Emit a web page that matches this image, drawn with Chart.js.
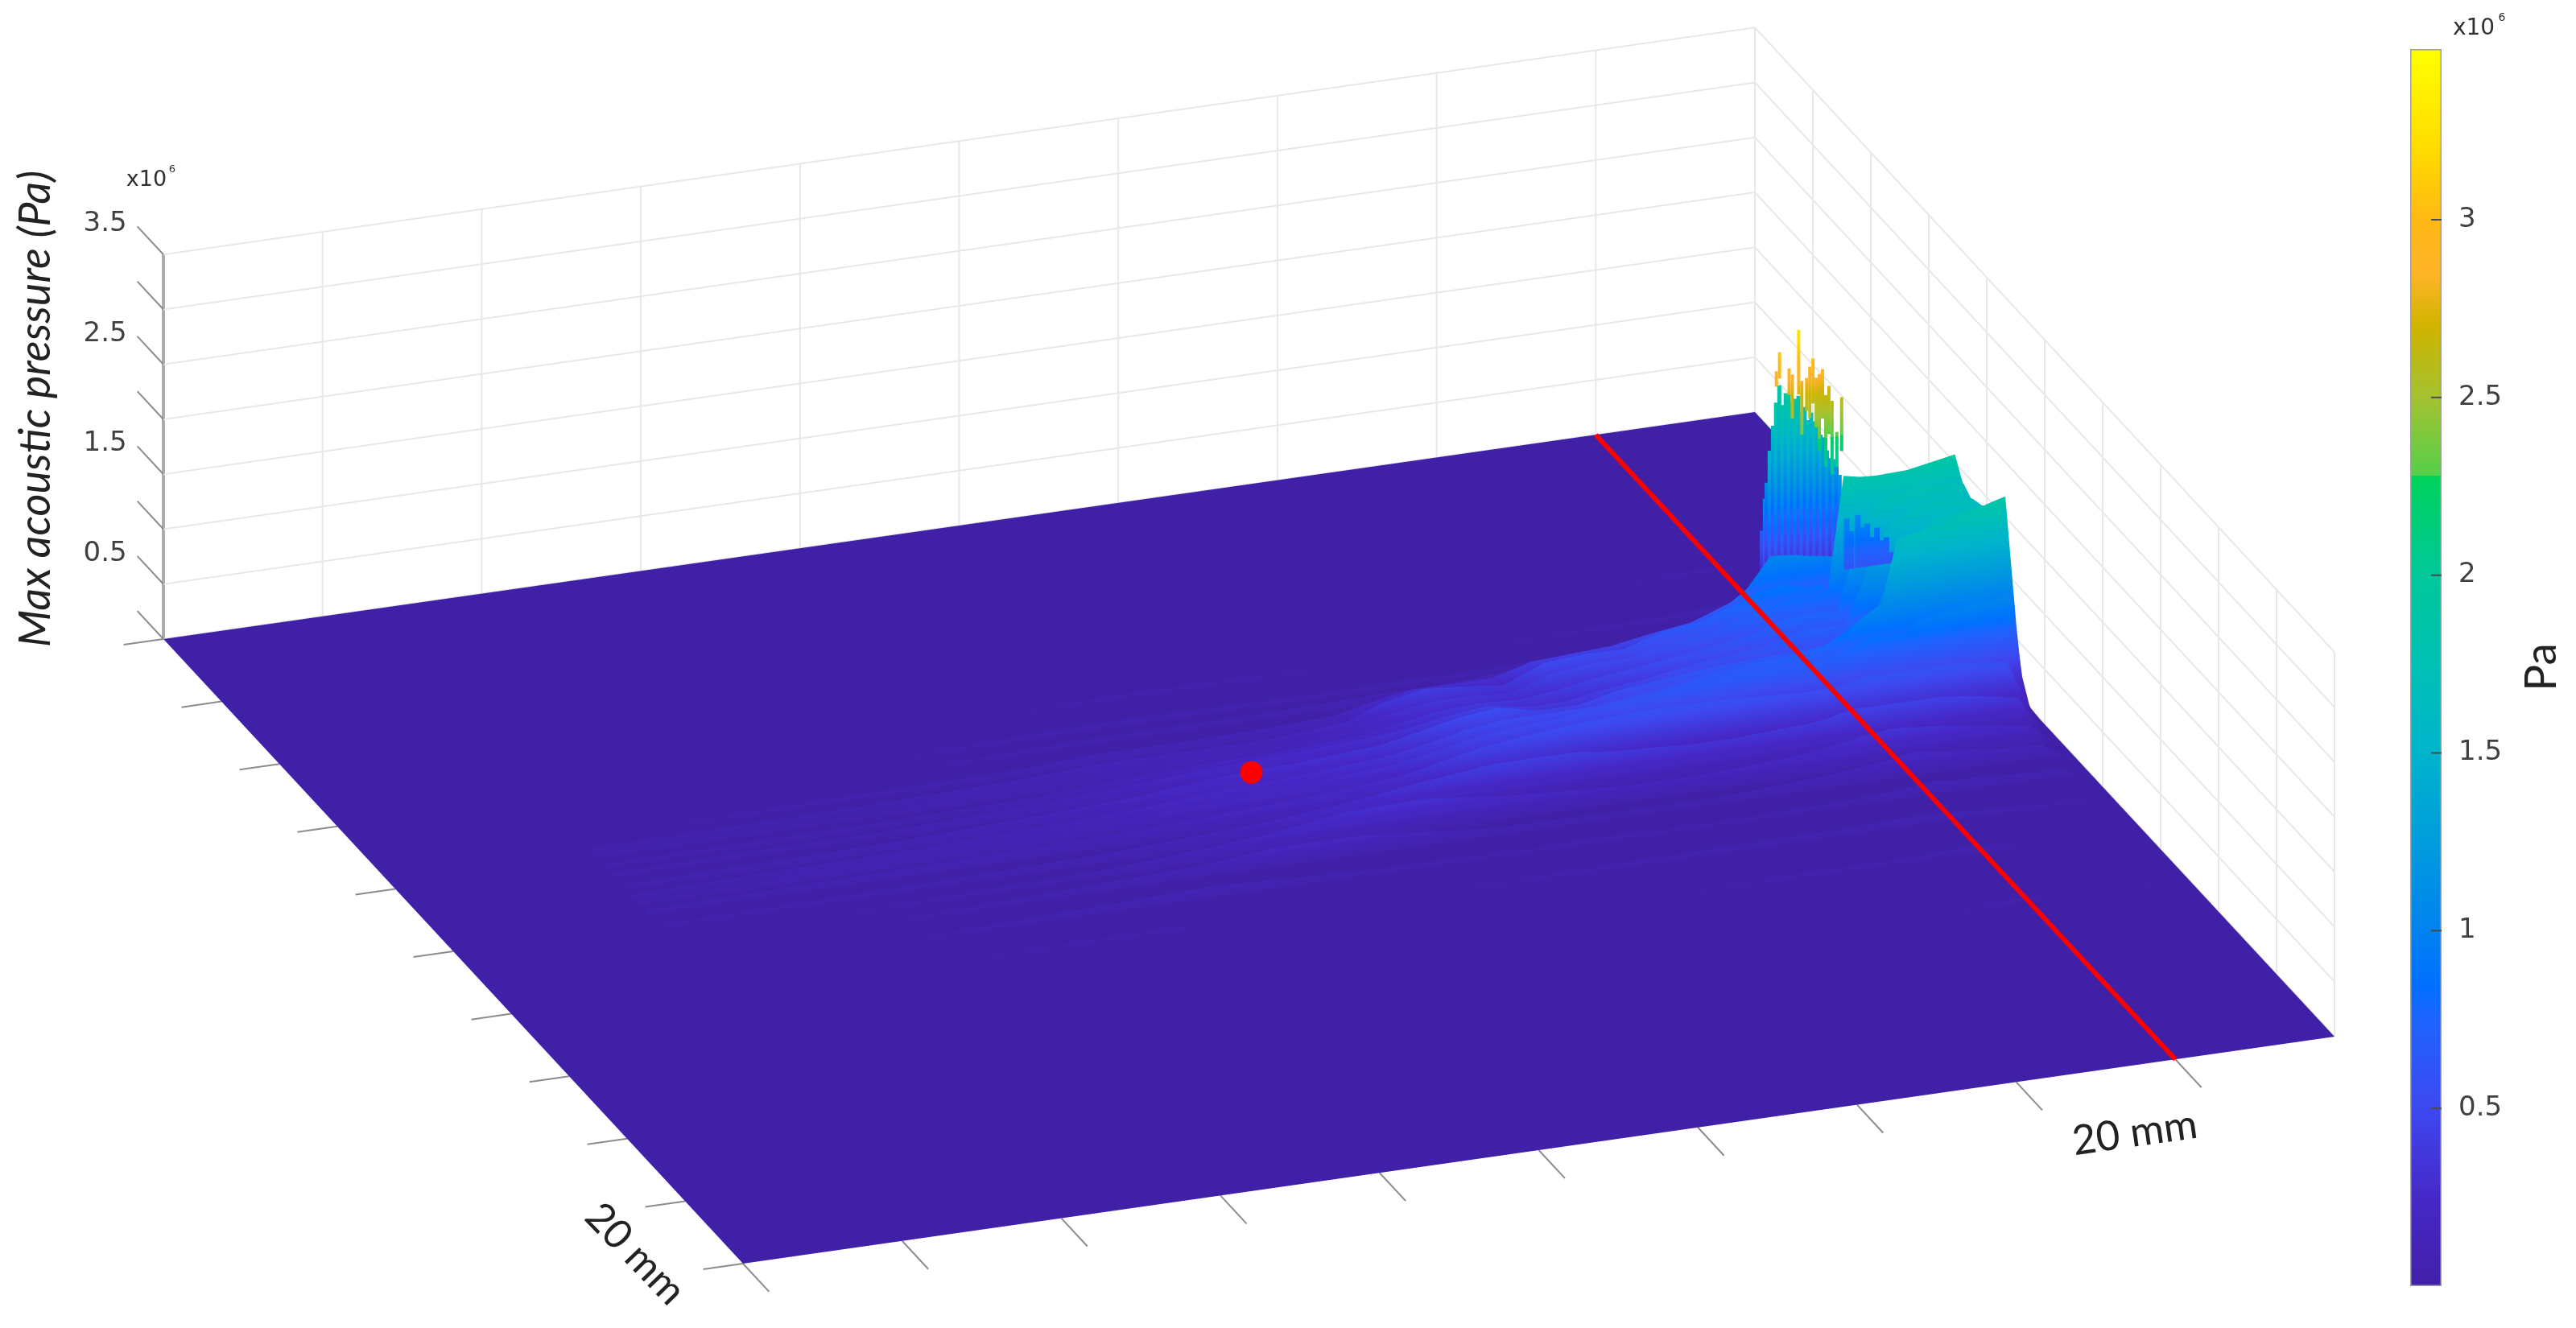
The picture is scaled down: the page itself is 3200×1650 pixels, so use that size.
<!DOCTYPE html>
<html>
<head>
<meta charset="utf-8">
<title>Max acoustic pressure</title>
<script src="https://cdn.jsdelivr.net/npm/chart.js@4/dist/chart.umd.min.js"></script>
<style>
    html, body { margin: 0; padding: 0; background: #ffffff; overflow: hidden; }
    #surfaceChart { position: absolute; left: 0; top: 0; }
    #colorbarChart { position: absolute; left: 2990px; top: 0; }
</style>
</head>
<body>
<canvas id="surfaceChart" width="3200" height="1650"></canvas>
<canvas id="colorbarChart" width="210" height="1650"></canvas>
<script>
// Box divisions and pressure levels (pressure in units of 1e6 Pa)
const gridDivisions = [0, 1, 2, 3, 4, 5, 6, 7, 8, 9, 10];
const pressureLevels = [0, 0.5, 1, 1.5, 2, 2.5, 3, 3.5];
const pressureTickLabels = ['3.5', '2.5', '1.5', '0.5'];
const colorbarMax = 3.48;
const colorbarTicks = [0.5, 1, 1.5, 2, 2.5, 3];

// Colormap (the step at 2.28 is in the picture)
const colorStopZ = [0, 0.25, 0.5, 0.75, 0.85, 1, 1.25, 1.5, 1.75, 2, 2.28, 2.28, 2.5, 2.7, 2.85, 3, 3.2, 3.48];
const colorStopHex = ['#4120a8', '#4628c8', '#3d48f0', '#1e64ff', '#0070ff', '#0082f0', '#009cdc', '#00b4cc',
    '#00c0b4', '#00c89a', '#00d25a', '#55cf4a', '#a4c230', '#d0b400', '#ffb428', '#ffb814', '#ffdc00', '#ffff00'];

// Surface: one row per slice along the y division
const surfaceX = [1.25, 2, 3, 4, 4.5, 5, 5.5, 6,
    6.25, 6.5, 6.75, 7, 7.25, 7.5, 7.75, 8,
    8.25, 8.5, 8.6, 8.75, 8.9, 9, 9.1, 9.2, 9.3, 9.5, 9.8, 9.88, 9.95, 10];
const surfaceY = [1.5, 2.2, 2.8, 3.2, 3.4, 3.7, 3.9, 4.0, 4.15, 4.3, 4.5, 4.65, 4.75, 4.9, 5.1, 5.3, 5.5, 5.8, 6.2, 6.7, 7.5, 8.3];
const surfaceZ = [
    [0, 0, 0, 0, 0, 0, 0, 0,   0, 0, 0, 0, 0, 0, 0, 0,   .01, .02, .02, .03, .03, .03, .02, .02, .02, .01, .01, 0, 0, 0],
    [0, 0, 0, 0, 0, 0, 0, 0,   0, 0, 0, 0, .01, .01, .02, .02,   .03, .04, .04, .05, .05, .04, .03, .03, .03, .02, .01, 0, 0, 0],
    [0, 0, 0, .02, .04, .05, .05, .04,   .04, .03, .03, .03, .03, .04, .04, .05,   .05, .06, .07, .08, .1, .1, .09, .08, .06, .03, .02, .01, 0, 0],
    [0, 0, .02, .05, .07, .08, .07, .06,   .06, .07, .07, .06, .07, .08, .1, .11,   .12, .14, .16, .2, .22, .2, .12, .1, .08, .04, .03, .02, .01, 0],
    [0, .01, .02, .05, .07, .08, .08, .09,   .1, .11, .11, .13, .16, .18, .2, .22,   .24, .28, .3, .32, .32, .28, .2, .14, .1, .05, .03, .02, .01, 0],
    [.02, .04, .06, .08, .12, .12, .13, .16,   .24, .3, .3, .3, .4, .42, .44, .5,   .55, .68, .78, 1.05, 1.03, 1, .98, .95, .8, .3, .1, .05, .02, 0],
    [.05, .06, .08, .12, .16, .16, .16, .22,   .35, .42, .39, .35, .5, .53, .52, .63,   .68, .8, .87, .9, .85, .85, .7, .55, .4, .1, .06, .04, .02, 0],
    [.06, .07, .08, .1, .13, .14, .15, .2,   .3, .36, .36, .33, .45, .5, .5, .58,   .62, .72, .78, .82, .82, .85, 1.88, 1.85, 1.84, 1.85, 1.93, 1.49, .9, 0],
    [.05, .06, .07, .1, .15, .18, .2, .24,   .3, .36, .38, .36, .4, .46, .5, .55,   .6, .66, .72, .76, .76, .74, 1.2, 1.6, 1.72, 1.78, 1.75, 1.5, 1, 0],
    [.05, .07, .08, .13, .18, .23, .26, .3,   .34, .4, .44, .38, .38, .44, .48, .54,   .58, .62, .66, .72, .72, .7, 1.05, 1.4, 1.6, 1.72, 1.7, 1.6, 1.2, 0],
    [.06, .08, .1, .16, .2, .27, .3, .35,   .42, .5, .54, .46, .46, .54, .58, .62,   .64, .66, .66, .68, .7, .7, .85, 1.2, 1.5, 1.7, 1.75, 1.72, 1.3, 0],
    [.06, .08, .1, .15, .19, .25, .28, .34,   .4, .48, .52, .52, .52, .56, .6, .66,   .7, .72, .74, .78, .9, 1, 1.08, 1.65, 1.68, 1.74, 1.87, 1.9, .7, 0],
    [.06, .08, .1, .14, .18, .22, .26, .32,   .38, .46, .5, .52, .56, .6, .64, .68,   .7, .7, .7, .72, .8, .85, .85, .85, .95, 1, 1.05, 1.05, .3, 0],
    [.06, .08, .1, .13, .16, .2, .24, .3,   .38, .46, .5, .54, .56, .58, .58, .58,   .56, .54, .54, .55, .6, .6, .6, .6, .6, .6, .55, .3, .1, 0],
    [.04, .05, .07, .1, .14, .18, .24, .34,   .38, .42, .42, .42, .38, .36, .34, .34,   .36, .38, .4, .45, .45, .45, .45, .45, .45, .42, .34, .15, .05, 0],
    [.02, .03, .05, .09, .14, .2, .3, .32,   .28, .24, .22, .2, .18, .18, .18, .2,   .22, .26, .28, .32, .35, .35, .33, .32, .3, .26, .2, .1, .03, 0],
    [.01, .02, .05, .1, .13, .2, .2, .14,   .1, .09, .09, .08, .08, .08, .08, .1,   .12, .14, .16, .18, .22, .24, .22, .2, .2, .16, .14, .07, .02, 0],
    [0, .01, .05, .1, .12, .09, .06, .06,   .05, .05, .06, .06, .05, .05, .05, .06,   .07, .08, .09, .1, .12, .14, .12, .12, .12, .1, .08, .04, .01, 0],
    [0, .01, .04, .05, .03, .03, .03, .04,   .04, .05, .05, .06, .06, .07, .07, .08,   .08, .09, .1, .1, .1, .09, .08, .07, .06, .05, .04, .03, .01, 0],
    [0, 0, .01, .01, .01, .01, .02, .02,   .03, .03, .03, .03, .04, .04, .05, .05,   .05, .05, .06, .07, .08, .07, .05, .04, .03, .03, .02, .02, .01, 0],
    [0, 0, 0, 0, 0, 0, 0, .01,   .01, .01, .01, .01, .02, .02, .02, .02,   .03, .03, .04, .05, .06, .05, .03, .02, .02, .03, .04, .02, .01, 0],
    [0, 0, 0, 0, 0, 0, 0, 0,   0, 0, 0, 0, 0, 0, .01, .01,   .01, .02, .02, .03, .04, .03, .02, .01, .01, .01, .02, .01, 0, 0]
];

// Body of the narrow peaks next to the x = 9 line
const bodyX = [8.93, 9.06, 8.97, 9.09, 9.0, 9.13, 9.04, 9.17, 9.08, 9.21, 9.12, 9.25, 9.16, 9.29,
    9.2, 9.33, 9.24, 9.37, 9.28, 9.41, 9.32, 9.45, 9.36, 9.49, 9.4, 9.53, 9.44];
const bodyY = [3, 2.7, 3, 2.7, 3, 2.7, 3, 2.7, 3, 2.7, 3, 2.7, 3, 2.7,
    3, 2.7, 3, 2.7, 3, 2.7, 3, 2.7, 3, 2.7, 3, 2.7, 3];
const bodyZ = [0.28, 0.65, 1.13, 1.08, 1.56, 1.59, 1.99, 1.95, 1.96, 1.87, 2.05, 1.78, 2.0, 1.83,
    1.87, 1.72, 1.79, 1.66, 1.77, 1.53, 1.64, 1.42, 1.49, 1.22, 1.4, 1.14, 1.25];
const bodyLow = 0.25;

// Bright tips of the same peaks, each from a low to a high pressure
const tipX = [8.66, 8.68, 8.74, 8.76, 8.8, 8.82, 8.85, 8.87, 8.89, 8.91, 8.93, 8.95, 8.97, 8.99, 9.01, 9.04, 9.07];
const tipLow = [2.81, 2.88, 2.72, 2.5, 2.71, 2.34, 2.55, 2.48, 2.61, 2.39, 2.17, 2.46, 2.02, 2.31, 1.94, 2.0, 2.14];
const tipHigh = [2.95, 3.12, 2.96, 2.9, 3.3, 2.83, 2.85, 2.95, 3.02, 2.84, 2.87, 2.91, 2.67, 2.75, 2.61, 2.32, 2.63];
const tipRowY = 4.05;

// Lower blue streaks in front of the plateau
const streakX = [9.36, 9.39, 9.43, 9.46, 9.49, 9.52, 9.55, 9.58, 9.61, 9.64];
const streakRowY = 3.34;
const streakLow = 0.6;
const streakZ = [1.06, 0.94, 1.08, 0.96, 0.99, 0.86, 0.94, 0.82, 0.84, 0.7];

// Marked position and marked line on the floor
const focusPoint = [5.35, 4.08, 0];
const markedLineX = 9;

/**
 * View geometry: the box is drawn in a parallel projection
 */
const viewWidth = 3200;
const viewHeight = 1650;
const floorOrigin = { x: 203, y: 794 };
const xStep = { x: 197.7, y: -28.2 };
const yStep = { x: 72, y: 77.6 };
const zStep = 136.5;

function project(x, y, z) {
    return {
        x: floorOrigin.x + x * xStep.x + y * yStep.x,
        y: floorOrigin.y + x * xStep.y + y * yStep.y - z * zStep
    };
}

/**
 * Build a canvas gradient holding the whole colormap between two view points
 */
function colormapGradient(chart, start, end) {
    const sx = chart.scales.x;
    const sy = chart.scales.y;
    const gradient = chart.ctx.createLinearGradient(
        sx.getPixelForValue(start.x), sy.getPixelForValue(start.y),
        sx.getPixelForValue(end.x), sy.getPixelForValue(end.y)
    );
    colorStopZ.forEach((z, i) => gradient.addColorStop(z / colorbarMax, colorStopHex[i]));
    return gradient;
}

// A slice is a vertical plane, so equal pressure runs parallel to the x direction on screen
function sliceFill(context) {
    const chart = context.chart;
    if (!chart.chartArea) return '#4120a8';
    const start = project(0, context.dataset.sliceY, 0);
    const len = Math.hypot(xStep.x, xStep.y);
    const nx = xStep.y / len;
    const ny = -xStep.x / len;
    const reach = zStep * colorbarMax * (-ny);
    return colormapGradient(chart, start, { x: start.x + nx * reach, y: start.y + ny * reach });
}

function columnStroke(context) {
    const chart = context.chart;
    if (!chart.chartArea) return '#4120a8';
    const d = context.dataset;
    return colormapGradient(chart, project(d.columnX, d.columnY, 0), project(d.columnX, d.columnY, colorbarMax));
}

function lineDataset(points, color, width) {
    return { data: points, borderColor: color, borderWidth: width, pointRadius: 0, fill: false, tension: 0 };
}

function sliceDataset(rowIndex) {
    const y = surfaceY[rowIndex];
    const points = [project(surfaceX[0], y, 0)];
    surfaceX.forEach((x, i) => points.push(project(x, y, surfaceZ[rowIndex][i])));
    points.push(project(surfaceX[surfaceX.length - 1], y, 0));
    return {
        data: points, sliceY: y, backgroundColor: sliceFill, borderWidth: 0,
        pointRadius: 0, fill: 'shape', tension: 0
    };
}

function columnDataset(x, y, low, high, width) {
    return {
        data: [project(x, y, low), project(x, y, high)], columnX: x, columnY: y,
        borderColor: columnStroke, borderWidth: width, pointRadius: 0, fill: false, tension: 0
    };
}

/**
 * Assemble everything back to front
 */
function buildSurfaceDatasets() {
    const list = [];
    const gridColor = '#e8e8e8';
    const top = pressureLevels[pressureLevels.length - 1];

    // Back walls
    gridDivisions.forEach(d => {
        list.push(lineDataset([project(d, 0, 0), project(d, 0, top)], d === 0 ? '#ababab' : gridColor, d === 0 ? 4 : 2));
        list.push(lineDataset([project(10, d, 0), project(10, d, top)], gridColor, 2));
    });
    pressureLevels.forEach(z => {
        list.push(lineDataset([project(0, 0, z), project(10, 0, z)], gridColor, 2));
        list.push(lineDataset([project(10, 0, z), project(10, 10, z)], gridColor, 2));
        list.push(lineDataset([project(0, 0, z), project(0, -0.45, z)], '#8c8c8c', 2));
    });

    // Axis ticks (the far corner of the front edge has none)
    gridDivisions.forEach(d => {
        list.push(lineDataset([project(0, d, 0), project(-0.25, d, 0)], '#8c8c8c', 2));
        if (d < 10) list.push(lineDataset([project(d, 10, 0), project(d, 10.45, 0)], '#8c8c8c', 2));
    });

    // Floor
    list.push({
        data: [project(0, 0, 0), project(10, 0, 0), project(10, 10, 0), project(0, 10, 0)],
        backgroundColor: colorStopHex[0], borderWidth: 0, pointRadius: 0, fill: 'shape', tension: 0
    });

    // Slices and columns
    surfaceY.forEach((y, i) => {
        if (y === 3.7) {
            bodyX.forEach((x, k) => list.push(columnDataset(x, bodyY[k], bodyLow, bodyZ[k], 5)));
            tipX.forEach((x, k) => list.push(columnDataset(x, tipRowY, tipLow[k], tipHigh[k], 4)));
        }
        if (y === 4.65) {
            streakX.forEach((x, k) => list.push(columnDataset(x, streakRowY, streakLow, streakZ[k], 7)));
        }
        list.push(sliceDataset(i));
    });

    // Marked line and point
    list.push(lineDataset([project(markedLineX, 0, 0), project(markedLineX, 10, 0)], '#ff0000', 6));
    list.push({
        data: [project(focusPoint[0], focusPoint[1], focusPoint[2])],
        showLine: false, pointRadius: 14, pointBorderWidth: 0, pointBackgroundColor: '#ff0000'
    });

    // The lowest order is painted last
    list.forEach((d, i) => { d.order = -i; });
    return list;
}

/**
 * Free text: axis names, tick numbers and scale exponents
 */
const viewLabels = [
    { text: 'Max acoustic pressure (Pa)', x: 45, y: 508, rotation: -90, font: 'italic 54px Lato', color: '#222222' },
    { text: 'x10', x: 182, y: 224, rotation: 0, font: '27px "DejaVu Sans"', color: '#303030' },
    { text: '6', x: 214, y: 211, rotation: 0, font: '13px "DejaVu Sans"', color: '#303030' },
    { text: 'x10', x: 3073, y: 36, rotation: 0, font: '28px "DejaVu Sans"', color: '#303030' },
    { text: '6', x: 3108, y: 22, rotation: 0, font: '14px "DejaVu Sans"', color: '#303030' },
    { text: 'Pa', x: 3157, y: 829, rotation: -90, font: '55px Lato', color: '#222222' },
    { text: '20 mm', x: 789, y: 1558, rotation: 46, font: '50px Lato', color: '#222222' },
    { text: '20 mm', x: 2652, y: 1408, rotation: -8, font: '51px Lato', color: '#222222' }
];

const labelPlugin = {
    id: 'viewLabels',
    afterDatasetsDraw(chart) {
        const ctx = chart.ctx;
        const sx = chart.scales.x;
        const sy = chart.scales.y;
        ctx.save();
        ctx.textBaseline = 'middle';

        // Pressure tick numbers sit beyond the tick ends
        ctx.textAlign = 'right';
        ctx.font = '34px "DejaVu Sans"';
        ctx.fillStyle = '#404040';
        pressureTickLabels.forEach(label => {
            const end = project(0, -0.45, parseFloat(label));
            ctx.fillText(label, sx.getPixelForValue(end.x) - 13, sy.getPixelForValue(end.y) - 3);
        });

        ctx.textAlign = 'center';
        viewLabels.forEach(item => {
            ctx.save();
            ctx.translate(sx.getPixelForValue(item.x), sy.getPixelForValue(item.y));
            ctx.rotate(item.rotation * Math.PI / 180);
            ctx.font = item.font;
            ctx.fillStyle = item.color;
            ctx.fillText(item.text, 0, 0);
            ctx.restore();
        });
        ctx.restore();
    }
};

function setupSurfaceChart() {
    const ctx = document.getElementById('surfaceChart').getContext('2d');
    new Chart(ctx, {
        type: 'line',
        data: { datasets: buildSurfaceDatasets() },
        plugins: [labelPlugin],
        options: {
            responsive: false,
            animation: false,
            events: [],
            layout: { padding: 0, autoPadding: false },
            plugins: { legend: { display: false }, tooltip: { enabled: false } },
            scales: {
                x: { type: 'linear', min: 0, max: viewWidth, display: false },
                y: { type: 'linear', min: 0, max: viewHeight, reverse: true, display: false }
            }
        }
    });
}

/**
 * Colour bar: its own chart so that the pressure axis is a real scale
 */
function setupColorbarChart() {
    const ctx = document.getElementById('colorbarChart').getContext('2d');
    const tickSets = colorbarTicks.map(v => ({
        data: [{ x: 0.67, y: v }, { x: 1, y: v }],
        borderColor: '#4a4a4a', borderWidth: 2, pointRadius: 0, fill: false
    }));
    const bar = {
        data: [{ x: 0, y: 0 }, { x: 1, y: 0 }, { x: 1, y: colorbarMax }, { x: 0, y: colorbarMax }, { x: 0, y: 0 }],
        borderColor: '#a0a0a0', borderWidth: 3, pointRadius: 0, fill: 'shape', tension: 0,
        backgroundColor(context) {
            const chart = context.chart;
            if (!chart.chartArea) return '#4120a8';
            return colormapGradient(chart, { x: 0, y: 0 }, { x: 0, y: colorbarMax });
        }
    };
    const datasets = [bar].concat(tickSets);
    datasets.forEach((d, i) => { d.order = -i; });

    new Chart(ctx, {
        type: 'line',
        data: { datasets: datasets },
        options: {
            responsive: false,
            animation: false,
            events: [],
            layout: { padding: { top: 61, bottom: 52, left: 4, right: 0 }, autoPadding: false },
            plugins: { legend: { display: false }, tooltip: { enabled: false } },
            scales: {
                x: { type: 'linear', min: 0, max: 1, display: false },
                y: {
                    type: 'linear',
                    position: 'right',
                    min: 0,
                    max: colorbarMax,
                    grid: { display: false },
                    border: { display: false },
                    afterBuildTicks(scale) {
                        scale.ticks = colorbarTicks.map(v => ({ value: v }));
                    },
                    afterFit(scale) {
                        scale.width = 167;
                    },
                    ticks: {
                        padding: 13,
                        autoSkip: false,
                        color: '#404040',
                        font: { family: 'DejaVu Sans', size: 34 },
                        callback: v => String(v)
                    }
                }
            }
        }
    });
}

document.addEventListener('DOMContentLoaded', function() {
    setupSurfaceChart();
    setupColorbarChart();
});
</script>
</body>
</html>
